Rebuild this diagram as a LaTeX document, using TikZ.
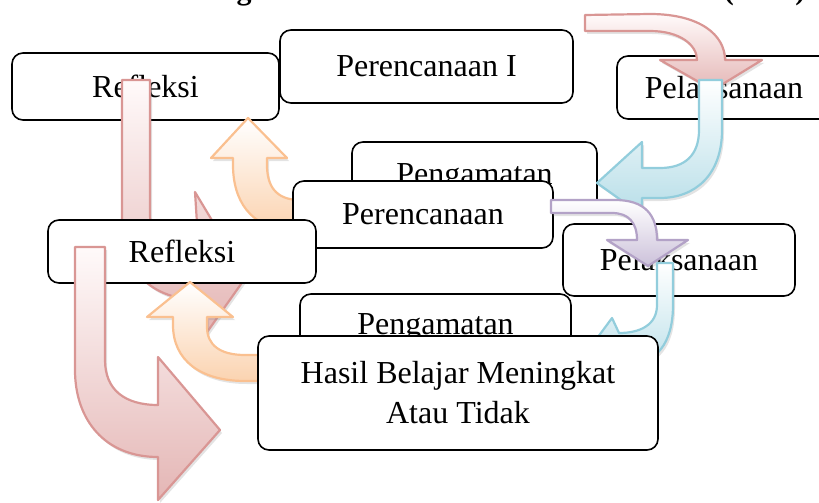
\documentclass[tikz,border=0pt]{standalone}
\usepackage{fontspec}
\setmainfont{Liberation Serif}
\usetikzlibrary{shadows}
\definecolor{pinkline}{HTML}{D99694}
\definecolor{pinkbot}{HTML}{E4B6B5}
\definecolor{pinktop}{HTML}{FFFAFA}
\definecolor{blueline}{HTML}{92CDDC}
\definecolor{bluebot}{HTML}{B7DEE8}
\definecolor{purpleline}{HTML}{B3A2C7}
\definecolor{purplebot}{HTML}{CCC1DA}
\definecolor{orangeline}{HTML}{FAC090}
\definecolor{orangebot}{HTML}{FBD3B0}
\tikzset{
  box/.style={draw=black, line width=1.6pt, rounded corners=11pt, fill=white,
    align=center, inner sep=0pt, font=\fontsize{32}{40}\selectfont},
  arr/.style={line width=2.2pt, line join=round,
    drop shadow={opacity=0.22, shadow xshift=2pt, shadow yshift=-3pt}},
  pinkarr/.style={arr, draw=pinkline, top color=pinktop, bottom color=pinkbot},
  bluearr/.style={arr, draw=blueline, top color=white, bottom color=bluebot},
  purplearr/.style={arr, draw=purpleline, top color=white, bottom color=purplebot},
  orangearr/.style={arr, draw=orangeline, top color=white, bottom color=orangebot}
}
\begin{document}
\begin{tikzpicture}[x=1pt,y=-1pt]
\useasboundingbox (0,0) rectangle (819,503);
\clip (0,0) rectangle (819,503);
\node[anchor=base east, font=\bfseries\fontsize{30}{36}\selectfont] (title) at (809,0)
  {Gambar 3.1 Bagan Siklus Penelitian Tindakan Kelas (PTK)};
% first cycle boxes
\node[box, minimum width=267pt, minimum height=67pt] (r1) at (145.5,86.5) {Refleksi};
\node[box, minimum width=293pt, minimum height=73pt] (p1) at (426.5,66.5) {Perencanaan I};
\node[box, minimum width=214pt, minimum height=63pt] (l1) at (724,87.5) {Pelaksanaan};
% arrow A (pink) Perencanaan I -> Pelaksanaan
\draw[pinkarr] (585,15) -- (650,14) .. controls (700,14) and (725,35) .. (725,60)
  -- (762,60) -- (713,90) -- (660,60) -- (697,60)
  .. controls (697,45) and (680,31) .. (650,31) -- (585,31) -- cycle;
% arrow H (pink) Refleksi -> next cycle
\draw[pinkarr] (122,80) -- (150,80) -- (150,215) .. controls (150,245) and (170,255) .. (199,255)
  -- (195,192) -- (246,277) -- (205,335) -- (202,300)
  .. controls (150,300) and (122,270) .. (122,220) -- cycle;
\node[box, minimum width=245pt, minimum height=70pt] (g1) at (474.5,177) {Pengamatan};
% arrow B (blue) Pelaksanaan -> Pengamatan
\draw[bluearr] (699,80) -- (722,80) -- (722,130) .. controls (722,175) and (695,198) .. (660,198)
  -- (642,198) -- (642,215) -- (597,183) -- (642,142) -- (642,168) -- (660,168)
  .. controls (685,168) and (699,155) .. (699,130) -- cycle;
% arrow E (orange) Pengamatan -> Refleksi
\draw[orangearr] (248,118) -- (287,158) -- (267,158) -- (267,165)
  .. controls (267,185) and (275,200) .. (300,200) -- (330,200) -- (330,230) -- (290,230)
  .. controls (250,228) and (233,200) .. (233,165) -- (233,158) -- (211,158) -- cycle;
\node[box, minimum width=260pt, minimum height=67pt] (p2) at (423,214.5) {Perencanaan};
\node[box, minimum width=232pt, minimum height=72pt] (l2) at (679,260) {Pelaksanaan};
% arrow C (purple) Perencanaan -> Pelaksanaan
\draw[purplearr] (551,200) -- (615,200) .. controls (645,200) and (657,215) .. (657,240)
  -- (688,240) -- (648,266) -- (607,240) -- (637,240)
  .. controls (637,222) and (628,213) .. (612,213) -- (551,213) -- cycle;
% arrow D (blue) Pelaksanaan -> Pengamatan
\draw[bluearr] (657,263) -- (673,263) -- (673,305) .. controls (673,345) and (655,362) .. (633,363)
  -- (640,378) -- (575,368) -- (612,318) -- (619,333)
  .. controls (640,333) and (657,325) .. (657,305) -- cycle;
\node[box, minimum width=268pt, minimum height=63pt] (r2) at (182,251.5) {Refleksi};
% arrow F (orange) Pengamatan -> Refleksi
\draw[orangearr] (190,282) -- (233,317) -- (207,317) -- (207,327)
  .. controls (207,345) and (220,355) .. (245,355) -- (280,355) -- (280,381) -- (245,381)
  .. controls (200,381) and (173,360) .. (173,325) -- (173,317) -- (147,317) -- cycle;
\node[box, minimum width=271pt, minimum height=66pt] (g2) at (435.5,327) {Pengamatan};
\node[box, minimum width=400pt, minimum height=114pt] (h) at (458,393)
  {Hasil Belajar Meningkat\\Atau Tidak};
% arrow G (pink) Refleksi -> out
\draw[pinkarr] (75,247) -- (105,247) -- (105,360) .. controls (105,390) and (125,405) .. (158,405)
  -- (158,357) -- (220,430) -- (158,500) -- (158,457)
  .. controls (105,457) and (75,420) .. (75,370) -- cycle;
\end{tikzpicture}
\end{document}
